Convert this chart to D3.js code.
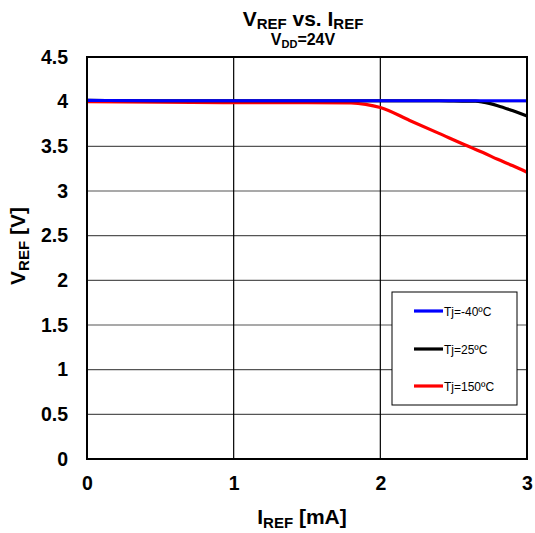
<!DOCTYPE html>
<html><head><meta charset="utf-8">
<script src="https://cdn.jsdelivr.net/npm/d3@7"></script>
<style>body{margin:0;background:#fff}svg{display:block;font-family:"Liberation Sans",Arial,sans-serif}</style>
</head><body><svg id="c" width="535" height="533"></svg>
<script>
const xTicks = [0, 1, 2, 3];
const yTicks = [0, 0.5, 1, 1.5, 2, 2.5, 3, 3.5, 4, 4.5];
const seriesNames = ["Tj=-40ºC", "Tj=25ºC", "Tj=150ºC"];
const seriesColors = ["#0000ff", "#000000", "#ff0000"];
const iref = [0, 0.5, 1, 1.5, 1.8, 1.9, 2.0, 2.2, 2.4, 2.6, 2.65, 2.7, 2.8, 2.9, 3.0];
const vMinus40 = [4.015, 4.01, 4.01, 4.01, 4.01, 4.01, 4.01, 4.01, 4.01, 4.01, 4.01, 4.01, 4.01, 4.01, 4.01];
const v25 = [4.015, 4.01, 4.01, 4.01, 4.01, 4.01, 4.01, 4.01, 4.01, 4.005, 4.005, 3.995, 3.955, 3.9, 3.84];
const v150 = [4.0, 3.995, 3.99, 3.99, 3.985, 3.97, 3.935, 3.79, 3.645, 3.5, 3.465, 3.43, 3.355, 3.285, 3.21];
const seriesValues = [vMinus40, v25, v150];

const svg = d3.select("#c");
const L = 87, R = 527, T = 57, B = 459;
const x = d3.scaleLinear().domain([0, 3]).range([L, R]);
const y = d3.scaleLinear().domain([0, 4.5]).range([B, T]);
const FONT = "Liberation Sans, Arial, sans-serif";

// grid
svg.append("g").selectAll("line").data(yTicks).join("line")
  .attr("x1", L).attr("x2", R).attr("y1", d => y(d)).attr("y2", d => y(d))
  .attr("stroke", "#555").attr("stroke-width", 1.2);
svg.append("g").selectAll("line").data(xTicks).join("line")
  .attr("y1", T).attr("y2", B).attr("x1", d => x(d)).attr("x2", d => x(d))
  .attr("stroke", "#000").attr("stroke-width", 1.2);

// curves
const line = d3.line().x((d, i) => x(iref[i])).y(d => y(d)).curve(d3.curveMonotoneX);
[2, 1, 0].forEach(k => {
  svg.append("path").datum(seriesValues[k]).attr("d", line)
    .attr("fill", "none").attr("stroke", seriesColors[k]).attr("stroke-width", 3.2)
    .attr("stroke-linejoin", "round");
});

// frame
svg.append("rect").attr("x", L).attr("y", T).attr("width", R - L).attr("height", B - T)
  .attr("fill", "none").attr("stroke", "#000").attr("stroke-width", 2);

// tick labels
const yAxis = d3.axisLeft(y).tickValues(yTicks).tickSize(0).tickPadding(19).tickFormat(d3.format("~g"));
const ga = svg.append("g").attr("transform", `translate(${L},0)`).call(yAxis);
ga.select(".domain").remove();
ga.selectAll("text").attr("font-size", 19.5).attr("font-weight", "bold").attr("fill", "#000")
  .attr("font-family", FONT);
const xAxis = d3.axisBottom(x).tickValues(xTicks).tickSize(0).tickPadding(17).tickFormat(d3.format("d"));
const gx = svg.append("g").attr("transform", `translate(0,${B})`).call(xAxis);
gx.select(".domain").remove();
gx.selectAll("text").attr("font-size", 19.5).attr("font-weight", "bold").attr("fill", "#000")
  .attr("font-family", FONT);

// title
const t = svg.append("text").attr("x", 303).attr("y", 26).attr("text-anchor", "middle")
  .attr("font-weight", "bold").attr("font-size", 21);
t.append("tspan").text("V");
t.append("tspan").attr("font-size", 15).attr("dy", 3).text("REF");
t.append("tspan").attr("dy", -3).text(" vs. I");
t.append("tspan").attr("font-size", 15).attr("dy", 3).text("REF");
const st = svg.append("text").attr("x", 303).attr("y", 45).attr("text-anchor", "middle")
  .attr("font-weight", "bold").attr("font-size", 16);
st.append("tspan").text("V");
st.append("tspan").attr("font-size", 11).attr("dy", 3).text("DD");
st.append("tspan").attr("dy", -3).text("=24V");

// x label
const xl = svg.append("text").attr("x", 302).attr("y", 524).attr("text-anchor", "middle")
  .attr("font-weight", "bold").attr("font-size", 21);
xl.append("tspan").text("I");
xl.append("tspan").attr("font-size", 15).attr("dy", 4).text("REF");
xl.append("tspan").attr("dy", -4).text(" [mA]");

// y label
const yl = svg.append("text").attr("transform", `translate(25,246) rotate(-90)`)
  .attr("text-anchor", "middle").attr("font-weight", "bold").attr("font-size", 21);
yl.append("tspan").text("V");
yl.append("tspan").attr("font-size", 15).attr("dy", 4).text("REF");
yl.append("tspan").attr("dy", -4).text(" [V]");

// legend
const lg = svg.append("g");
lg.append("rect").attr("x", 392).attr("y", 292).attr("width", 125).attr("height", 113)
  .attr("fill", "#fff").attr("stroke", "#000").attr("stroke-width", 1);
const rows = [311, 349, 386];
seriesNames.forEach((n, i) => {
  lg.append("line").attr("x1", 414).attr("x2", 443).attr("y1", rows[i]).attr("y2", rows[i])
    .attr("stroke", seriesColors[i]).attr("stroke-width", 3.2);
  lg.append("text").attr("x", 444).attr("y", rows[i] + 4.5).attr("font-size", 12)
    .attr("font-family", FONT).text(n);
});
</script></body></html>
